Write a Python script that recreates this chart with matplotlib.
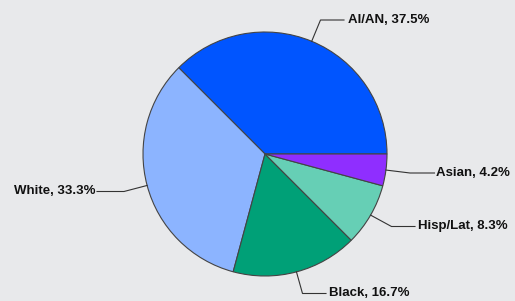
import matplotlib
matplotlib.use("Agg")
import matplotlib.pyplot as plt
import numpy as np

labels = ["AI/AN", "White", "Black", "Hisp/Lat", "Asian"]
values = [37.5, 33.3, 16.7, 8.3, 4.2]
colors = ["#0055FF", "#8CB4FF", "#00A077", "#66CFB5", "#8F2EFF"]

# label layout (pixel coords, y down): elbow point, line end, text x, ha
layout = {
    "AI/AN":    ((320.5, 20), (344, 20), 347.5, "left"),
    "White":    ((124, 191.5), (97, 191.5), 95.5, "right"),
    "Black":    ((302.5, 293.5), (326, 293.5), 329, "left"),
    "Hisp/Lat": ((391.5, 226.5), (415, 226.5), 418, "left"),
    "Asian":    ((410, 173), (434.5, 173), 436.5, "left"),
}

W, H = 515, 301
fig = plt.figure(figsize=(W / 100, H / 100), dpi=100)
bg = "#E8E9EB"
fig.patch.set_facecolor(bg)
ax = fig.add_axes([0, 0, 1, 1])
ax.set_facecolor(bg)
ax.set_xlim(0, W)
ax.set_ylim(0, H)
ax.set_aspect("equal")
ax.axis("off")

cx, cy, r = 265, H - 154, 122
wedges, _ = ax.pie(values, colors=colors, startangle=0, counterclock=True,
                   center=(cx, cy), radius=r, frame=True,
                   wedgeprops=dict(edgecolor="#444444", linewidth=0.8))
ax.set_xlim(0, W)
ax.set_ylim(0, H)
ax.axis("off")

for w, lab, v in zip(wedges, labels, values):
    mid = np.deg2rad((w.theta1 + w.theta2) / 2)
    sx, sy = cx + r * np.cos(mid), cy + r * np.sin(mid)
    (ex, ey), (lx, ly), tx, ha = layout[lab]
    ax.plot([sx, ex, lx], [sy, H - ey, H - ly], color="#333333", lw=0.8,
            solid_joinstyle="miter")
    ax.text(tx, H - ly, f"{lab}, {v:.1f}%", ha=ha, va="center",
            fontsize=9.5, fontweight="bold", family="Liberation Sans",
            color="#111111")

fig.savefig("out.png", dpi=100, facecolor=bg)
